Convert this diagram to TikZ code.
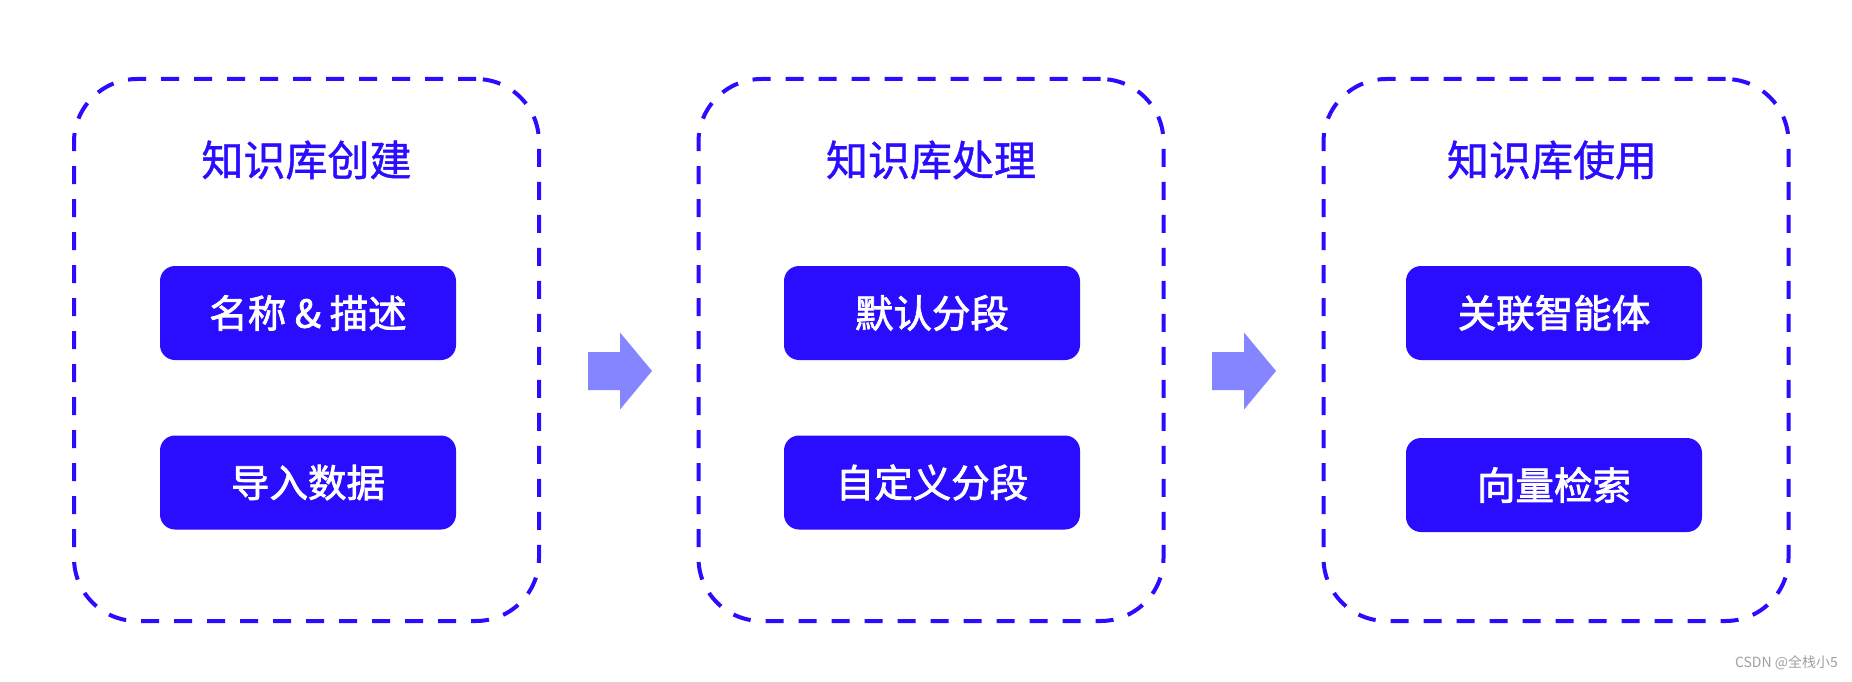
\documentclass[tikz,border=0pt]{standalone}
\usepackage{fontspec}
\setmainfont{Noto Sans CJK SC}
\newfontfamily\titlefont[FakeBold=1]{Noto Sans CJK SC}
\newfontfamily\itemfont[FakeBold=2]{Noto Sans CJK SC}
\usetikzlibrary{calc}
\definecolor{mainblue}{HTML}{2A0CFF}
\definecolor{arrowc}{HTML}{8585FF}
\definecolor{wmgray}{HTML}{A0A0A0}
\tikzset{
  panel/.style={draw=mainblue, line width=4pt, dash pattern=on 18pt off 15pt,
    rounded corners=63pt, minimum width=465pt, minimum height=542pt, inner sep=0pt},
  paneltitle/.style={text=mainblue, font=\titlefont\fontsize{42}{50}\selectfont, inner sep=0pt},
  itembox/.style={fill=mainblue, rounded corners=15pt, minimum width=296pt,
    minimum height=94pt, inner sep=0pt, text=white,
    font=\itemfont\fontsize{38.5}{46}\selectfont},
  flowarrow/.style={fill=arrowc},
}
\begin{document}
\begin{tikzpicture}[x=1pt,y=-1pt]
\useasboundingbox[fill=white] (0,0) rectangle (1852,682);
% panels
\node[panel] (p1) at (306.5,350) {};
\node[panel] (p2) at (931,350) {};
\node[panel] (p3) at (1556,350) {};
% titles
\node[paneltitle] (t1) at (306.5,160) {知识库创建};
\node[paneltitle] (t2) at (931,160) {知识库处理};
\node[paneltitle] (t3) at (1552,160) {知识库使用};
% items
\node[itembox] (a1) at (308,313) {名称 \& 描述};
\node[itembox] (a2) at (308,482.5) {导入数据};
\node[itembox] (b1) at (932,313) {默认分段};
\node[itembox] (b2) at (932,482.5) {自定义分段};
\node[itembox] (c1) at (1554,313) {关联智能体};
\node[itembox] (c2) at (1554,485) {向量检索};
% arrows
\coordinate (arr1) at (588,371);
\coordinate (arr2) at (1212,371);
\foreach \c in {arr1,arr2}{
  \fill[flowarrow, shift={(\c)}] (0,-19) -- (32,-19) -- (32,-38.5) -- (64,0)
    -- (32,38.5) -- (32,19) -- (0,19) -- cycle;
}
% watermark
\node[anchor=east, text=wmgray, font=\fontsize{14}{16}\selectfont, inner sep=0pt] (wm) at (1838,663) {CSDN @全栈小5};
\end{tikzpicture}
\end{document}
